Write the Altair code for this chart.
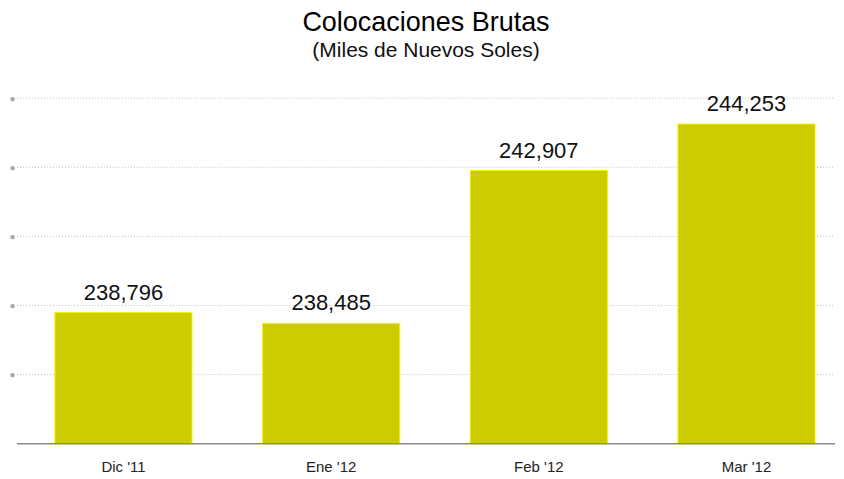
import altair as alt
import pandas as pd

categories = ["Dic '11", "Ene '12", "Feb '12", "Mar '12"]
values = [238796, 238485, 242907, 244253]
y_ticks = [237000, 239000, 241000, 243000, 245000]
base_value = [235000]

df = pd.DataFrame({"mes": categories, "valor": values})
df["etiqueta"] = [f"{v:,}" for v in values]
base_df = pd.DataFrame({"base": base_value})
grid_df = pd.DataFrame({"g": y_ticks})

FONT = "Liberation Sans"
W = 819

xscale = alt.Scale(range=[38, 799], paddingInner=0.34, paddingOuter=0)
xenc = alt.X("mes:N", sort=categories, title=None, scale=xscale,
             axis=alt.Axis(labelAngle=0, labelFontSize=15, labelColor="#222222",
                           labelFont=FONT, ticks=False, labelPadding=16,
                           domain=False))
yscale = alt.Scale(domain=[235000, 245000], zero=False, nice=False)

grid = alt.Chart(grid_df).mark_rule(color="#c0c0c0", strokeDash=[1, 2], strokeWidth=1).encode(
    y=alt.Y("g:Q", scale=yscale, title=None,
            axis=alt.Axis(values=y_ticks, grid=False, domain=False, ticks=False,
                          labelExpr="'●'", labelFontSize=10, labelColor="#a8a8a8",
                          labelPadding=2)),
    x=alt.value(0),
    x2=alt.value(W),
)

bars = alt.Chart(df).mark_bar(color="#CCCC00", stroke="#F2F200", strokeWidth=1).encode(
    x=xenc,
    y=alt.Y("valor:Q", scale=yscale),
    y2=alt.datum(235000),
)

baseline = alt.Chart(base_df).mark_rule(color="#8a8a8a", strokeWidth=1.5).encode(
    y=alt.Y("base:Q", scale=yscale),
    x=alt.value(0),
    x2=alt.value(W),
)

text = alt.Chart(df).mark_text(fontSize=22, font=FONT, color="#111111",
                                baseline="bottom", dy=-8).encode(
    x=alt.X("mes:N", sort=categories, scale=xscale),
    y=alt.Y("valor:Q", scale=yscale),
    text="etiqueta:N",
)

chart = (grid + bars + baseline + text).properties(
    width=W, height=346,
    title=alt.TitleParams(text="Colocaciones Brutas",
                          subtitle="(Miles de Nuevos Soles)",
                          font=FONT, fontSize=27, fontWeight="normal", color="#000000",
                          subtitleFont=FONT, subtitleFontSize=21, subtitleColor="#111111",
                          subtitlePadding=3, anchor="middle", offset=31),
    padding={"left": 0, "top": 0, "right": 0, "bottom": 0},
).configure_view(stroke=None)

chart.save("out.html", embed_options={"renderer": "svg", "actions": False})
